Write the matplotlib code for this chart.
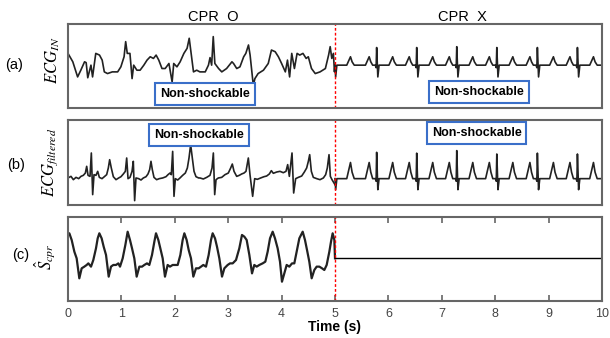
import numpy as np
import matplotlib
matplotlib.use("Agg")
import matplotlib.pyplot as plt

plt.rcParams['font.family'] = ['Liberation Sans', 'DejaVu Sans']
plt.rcParams['mathtext.fontset'] = 'stix'

# ---- data (time in s, amplitude normalised to panel) ----
# (a) raw ECG while CPR is going on, 0-5 s
ecg_in_cpr = [(0.00, 0.65), (0.09, 0.55), (0.18, 0.37), (0.24, 0.45), (0.31, 0.55), (0.34, 0.54),
              (0.37, 0.36), (0.43, 0.51), (0.46, 0.37), (0.52, 0.65), (0.59, 0.63), (0.64, 0.57),
              (0.68, 0.43), (0.74, 0.41), (0.83, 0.43), (0.93, 0.43), (0.99, 0.49), (1.05, 0.61),
              (1.08, 0.79), (1.11, 0.65), (1.16, 0.65), (1.20, 0.35), (1.23, 0.51), (1.29, 0.45),
              (1.35, 0.45), (1.42, 0.51), (1.48, 0.57), (1.54, 0.61), (1.60, 0.59), (1.65, 0.63),
              (1.70, 0.57), (1.76, 0.47), (1.82, 0.47), (1.89, 0.53), (1.95, 0.31), (1.98, 0.53),
              (2.04, 0.49), (2.10, 0.55), (2.17, 0.65), (2.23, 0.71), (2.27, 0.83), (2.31, 0.63),
              (2.35, 0.43), (2.41, 0.45), (2.47, 0.43), (2.57, 0.43), (2.63, 0.51), (2.66, 0.60),
              (2.69, 0.51), (2.72, 0.85), (2.75, 0.53), (2.82, 0.47), (2.88, 0.43), (2.97, 0.47),
              (3.07, 0.55), (3.10, 0.53), (3.16, 0.47), (3.22, 0.49), (3.29, 0.61), (3.33, 0.65),
              (3.38, 0.75), (3.41, 0.63), (3.47, 0.27), (3.50, 0.35), (3.56, 0.41), (3.66, 0.45),
              (3.75, 0.53), (3.81, 0.69), (3.88, 0.67), (3.94, 0.61), (4.00, 0.53), (4.07, 0.43),
              (4.11, 0.57), (4.15, 0.37), (4.19, 0.65), (4.24, 0.47), (4.29, 0.65), (4.34, 0.63),
              (4.40, 0.65), (4.46, 0.59), (4.50, 0.61), (4.56, 0.47), (4.63, 0.41), (4.72, 0.43),
              (4.82, 0.47), (4.88, 0.63), (4.91, 0.73), (4.94, 0.59), (4.97, 0.65), (4.99, 0.43),
              (5.00, 0.51)]

# (b) filtered ECG, 0-5 s
ecg_filt_cpr = [(0.00, 0.318), (0.056, 0.337), (0.100, 0.298), (0.150, 0.325), (0.200, 0.310),
                (0.243, 0.337), (0.287, 0.349), (0.325, 0.376), (0.350, 0.455), (0.375, 0.349),
                (0.412, 0.337), (0.437, 0.612), (0.462, 0.122), (0.487, 0.357), (0.524, 0.349),
                (0.556, 0.396), (0.587, 0.325), (0.637, 0.310), (0.680, 0.333), (0.724, 0.357),
                (0.755, 0.435), (0.780, 0.533), (0.811, 0.435), (0.849, 0.333), (0.899, 0.298),
                (0.949, 0.318), (0.992, 0.333), (1.036, 0.365), (1.074, 0.396), (1.099, 0.553),
                (1.124, 0.310), (1.161, 0.325), (1.199, 0.396), (1.223, 0.514), (1.248, 0.051),
                (1.273, 0.318), (1.323, 0.310), (1.367, 0.294), (1.411, 0.318), (1.461, 0.333),
                (1.498, 0.365), (1.529, 0.416), (1.554, 0.514), (1.579, 0.416), (1.610, 0.325),
                (1.660, 0.298), (1.710, 0.310), (1.773, 0.318), (1.835, 0.333), (1.873, 0.357),
                (1.910, 0.376), (1.935, 0.357), (1.960, 0.631), (1.985, 0.102), (2.010, 0.310),
                (2.054, 0.294), (2.097, 0.318), (2.147, 0.349), (2.197, 0.376), (2.235, 0.435),
                (2.266, 0.553), (2.297, 0.710), (2.328, 0.553), (2.360, 0.396), (2.397, 0.333),
                (2.447, 0.318), (2.472, 0.318), (2.534, 0.306), (2.597, 0.325), (2.659, 0.349),
                (2.697, 0.435), (2.722, 0.612), (2.747, 0.122), (2.772, 0.298), (2.815, 0.318),
                (2.878, 0.325), (2.940, 0.357), (3.002, 0.376), (3.046, 0.435), (3.077, 0.482),
                (3.109, 0.396), (3.159, 0.337), (3.208, 0.349), (3.252, 0.365), (3.296, 0.376),
                (3.333, 0.396), (3.377, 0.553), (3.408, 0.357), (3.458, 0.102), (3.496, 0.310),
                (3.546, 0.302), (3.608, 0.318), (3.670, 0.333), (3.720, 0.341), (3.770, 0.365),
                (3.808, 0.404), (3.845, 0.373), (3.908, 0.388), (3.970, 0.396), (4.032, 0.380),
                (4.082, 0.396), (4.114, 0.475), (4.145, 0.337), (4.195, 0.612), (4.226, 0.141),
                (4.263, 0.310), (4.313, 0.325), (4.376, 0.341), (4.426, 0.388), (4.469, 0.435),
                (4.501, 0.514), (4.526, 0.592), (4.557, 0.396), (4.594, 0.325), (4.657, 0.310),
                (4.719, 0.298), (4.782, 0.318), (4.825, 0.357), (4.856, 0.435), (4.888, 0.592),
                (4.913, 0.337), (4.944, 0.298), (4.981, 0.259), (5.000, 0.239)]

# (c) estimated CPR artefact, 0-5 s
s_cpr = [(0.000, 0.786), (0.025, 0.806), (0.069, 0.726), (0.119, 0.587), (0.162, 0.508), (0.212, 0.270),
         (0.256, 0.389), (0.306, 0.409), (0.350, 0.429), (0.381, 0.448), (0.431, 0.409), (0.474, 0.488),
         (0.524, 0.627), (0.556, 0.746), (0.587, 0.806), (0.630, 0.746), (0.668, 0.647), (0.712, 0.548),
         (0.762, 0.290), (0.805, 0.409), (0.849, 0.429), (0.899, 0.429), (0.943, 0.448), (0.974, 0.409),
         (1.024, 0.508), (1.074, 0.667), (1.117, 0.825), (1.161, 0.726), (1.199, 0.627), (1.242, 0.508),
         (1.286, 0.290), (1.336, 0.409), (1.386, 0.409), (1.429, 0.429), (1.479, 0.448), (1.523, 0.429),
         (1.573, 0.548), (1.617, 0.706), (1.648, 0.806), (1.692, 0.726), (1.729, 0.627), (1.773, 0.508),
         (1.816, 0.290), (1.866, 0.429), (1.910, 0.409), (1.960, 0.429), (2.010, 0.429), (2.054, 0.429),
         (2.104, 0.548), (2.147, 0.726), (2.179, 0.806), (2.222, 0.726), (2.260, 0.607), (2.303, 0.508),
         (2.347, 0.290), (2.397, 0.389), (2.447, 0.389), (2.491, 0.409), (2.534, 0.429), (2.584, 0.409),
         (2.634, 0.548), (2.678, 0.726), (2.709, 0.806), (2.753, 0.746), (2.790, 0.647), (2.834, 0.508),
         (2.884, 0.290), (2.928, 0.389), (2.990, 0.429), (3.034, 0.448), (3.084, 0.448), (3.146, 0.488),
         (3.208, 0.627), (3.258, 0.786), (3.302, 0.766), (3.346, 0.726), (3.396, 0.548), (3.446, 0.329),
         (3.489, 0.429), (3.533, 0.409), (3.583, 0.429), (3.645, 0.448), (3.695, 0.468), (3.739, 0.587),
         (3.783, 0.746), (3.833, 0.825), (3.876, 0.746), (3.926, 0.627), (3.970, 0.468), (4.007, 0.230),
         (4.051, 0.329), (4.095, 0.429), (4.145, 0.409), (4.195, 0.448), (4.238, 0.448), (4.282, 0.587),
         (4.332, 0.746), (4.395, 0.825), (4.438, 0.726), (4.476, 0.607), (4.519, 0.468), (4.563, 0.270),
         (4.613, 0.369), (4.657, 0.409), (4.707, 0.409), (4.757, 0.389), (4.800, 0.369), (4.844, 0.429),
         (4.894, 0.587), (4.925, 0.706), (4.956, 0.806), (4.988, 0.726), (5.000, 0.508)]
s_cpr_rest = [(5.0, 0.508), (10.0, 0.508)]

# regular rhythm without CPR, 5-10 s: R-peak times and R heights
r_times = [4.99, 5.78, 6.53, 7.28, 8.03, 8.79, 9.54]
r_amp_a = [0.20, 0.21, 0.21, 0.22, 0.21, 0.21, 0.21]
r_amp_b = [0.32, 0.31, 0.30, 0.33, 0.29, 0.30, 0.29]
# baseline, S depth, P/T bump height for (a) and (b)
wave_a = (0.51, 0.14, 0.10)
wave_b = (0.31, 0.13, 0.19)

tick_vals = [0, 1, 2, 3, 4, 5, 6, 7, 8, 9, 10]


def rhythm(times, amps, wave):
    base, sdep, bump = wave
    pts = []
    for r, a in zip(times, amps):
        pts += [(r - 0.21, 0), (r - 0.175, 0.5 * bump), (r - 0.14, bump), (r - 0.11, 0.4 * bump),
                (r - 0.075, 0), (r - 0.025, 0), (r - 0.01, -0.03), (r, a), (r + 0.022, -sdep),
                (r + 0.045, 0), (r + 0.23, 0), (r + 0.265, 0.5 * bump), (r + 0.30, bump),
                (r + 0.33, 0.4 * bump), (r + 0.37, 0)]
    pts = sorted(p for p in pts if 5.0 < p[0] <= 10.0)
    return [(5.0, base)] + [(t, base + v) for t, v in pts] + [(10.0, base)]


fig = plt.figure(figsize=(6.1, 3.38), dpi=100)
L, W = 68 / 610, 534 / 610
ax_a = fig.add_axes([L, 1 - 108 / 338, W, 84 / 338])
ax_b = fig.add_axes([L, 1 - 205 / 338, W, 85 / 338])
ax_c = fig.add_axes([L, 1 - 301 / 338, W, 84 / 338])

line_col = '#222222'
for ax, left, wave, amps in [(ax_a, ecg_in_cpr, wave_a, r_amp_a),
                             (ax_b, ecg_filt_cpr, wave_b, r_amp_b)]:
    t, y = zip(*left)
    ax.plot(t, y, color=line_col, lw=1.2)
    t2, y2 = zip(*rhythm(r_times, amps, wave))
    ax.plot(t2, y2, color=line_col, lw=1.2)

t, y = zip(*s_cpr)
ax_c.plot(t, y, color=line_col, lw=1.6)
t, y = zip(*s_cpr_rest)
ax_c.plot(t, y, color='black', lw=1.0)

for ax in (ax_a, ax_b, ax_c):
    ax.set_xlim(0, 10)
    ax.set_ylim(0, 1)
    ax.set_yticks([])
    ax.axvline(5, color='red', lw=1.0, ls=(0, (2, 1.5)))
    for s in ax.spines.values():
        s.set_color('#666666')
        s.set_linewidth(1.5)

for ax in (ax_a, ax_b):
    ax.set_xticks([])

ax_c.set_xticks(tick_vals)
ax_c.set_xticklabels([str(v) for v in tick_vals], fontsize=9, color='#444444')
ax_c.tick_params(axis='x', direction='in', top=True, length=4, width=1.2, color='#666666', pad=5)
ax_c.set_xlabel('Time (s)', fontsize=10, fontweight='bold', labelpad=0)

box = dict(boxstyle='square,pad=0.4', fc='white', ec='#3a6fc9', lw=1.5)
for ax, x, yy in [(ax_a, 2.57, 0.17), (ax_a, 7.69, 0.19), (ax_b, 2.45, 0.82), (ax_b, 7.65, 0.85)]:
    ax.text(x, yy, 'Non-shockable', ha='center', va='center', fontsize=9, fontweight='bold',
            bbox=box)

fig.text(213 / 610, 1 - 17 / 338, 'CPR  O', ha='center', va='center', fontsize=10.5)
fig.text(462 / 610, 1 - 17 / 338, 'CPR  X', ha='center', va='center', fontsize=10.5)

fig.text(14 / 610, 1 - 65 / 338, '(a)', ha='center', va='center', fontsize=10.5)
fig.text(16 / 610, 1 - 165 / 338, '(b)', ha='center', va='center', fontsize=10.5)
fig.text(21 / 610, 1 - 255 / 338, '(c)', ha='center', va='center', fontsize=10.5)

fig.text(53 / 610, 1 - 60 / 338, r'$ECG_{IN}$', rotation=90, ha='center', va='center', fontsize=12)
fig.text(50 / 610, 1 - 162 / 338, r'$ECG_{filtered}$', rotation=90, ha='center', va='center', fontsize=12)
fig.text(45 / 610, 1 - 257 / 338, r'$\hat{S}_{cpr}$', rotation=90, ha='center', va='center', fontsize=12)

fig.savefig('out.png', dpi=100)
